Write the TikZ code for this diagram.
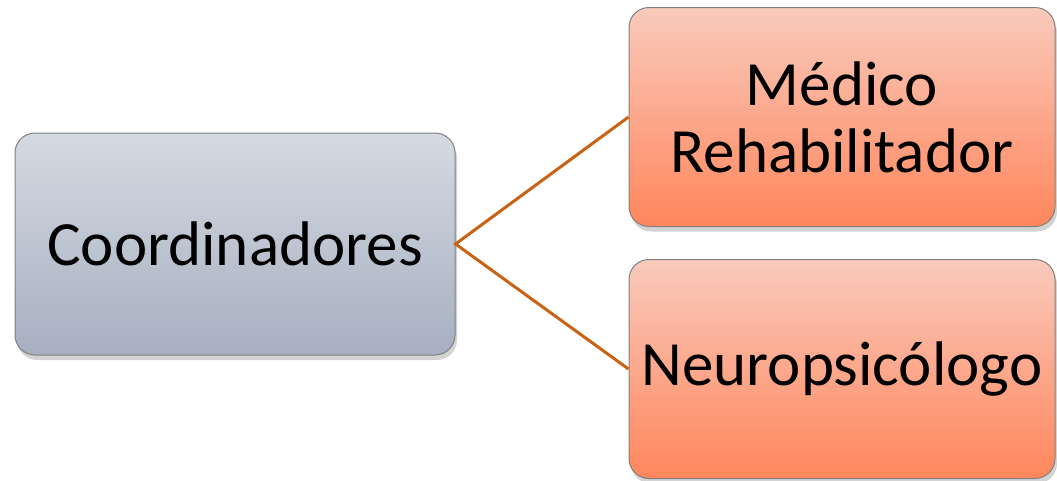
\documentclass[tikz,border=0pt]{standalone}
\usepackage{fontspec}
\setmainfont{Carlito}
\usetikzlibrary{positioning,shadows}
\definecolor{grisArriba}{RGB}{213,218,226}
\definecolor{grisAbajo}{RGB}{166,176,193}
\definecolor{rosaArriba}{RGB}{249,202,188}
\definecolor{rosaAbajo}{RGB}{255,134,92}
\definecolor{naranjaLinea}{RGB}{200,98,20}

\begin{document}
\begin{tikzpicture}[x=1pt,y=-1pt,
	caja/.style={draw=black!50, line width=1pt, rounded corners=20pt, inner sep=0pt, align=center,
		font=\fontsize{63}{67}\selectfont,
		drop shadow={opacity=0.35, shadow xshift=2pt, shadow yshift=-5pt}},
	jefe/.style={caja, top color=grisArriba, bottom color=grisAbajo, minimum width=440pt, minimum height=222pt},
	rol/.style={caja, top color=rosaArriba, bottom color=rosaAbajo, minimum width=426pt, minimum height=219pt},
	enlace/.style={draw=naranjaLinea, line width=3pt}]
	\useasboundingbox (0,0) rectangle (1057,480); %margenes
	\node[jefe] (coord) at (235,244) {Coordinadores}; %izquierda
	\node[rol] (medico) at (842,117) {Médico\\Rehabilitador}; %arriba
	\node[rol] (neuro) at (842,369) {Neuropsicólogo}; %abajo
	\draw[enlace] (medico.west) -- (coord.east) -- (neuro.west); %lineas
\end{tikzpicture}
\end{document}
